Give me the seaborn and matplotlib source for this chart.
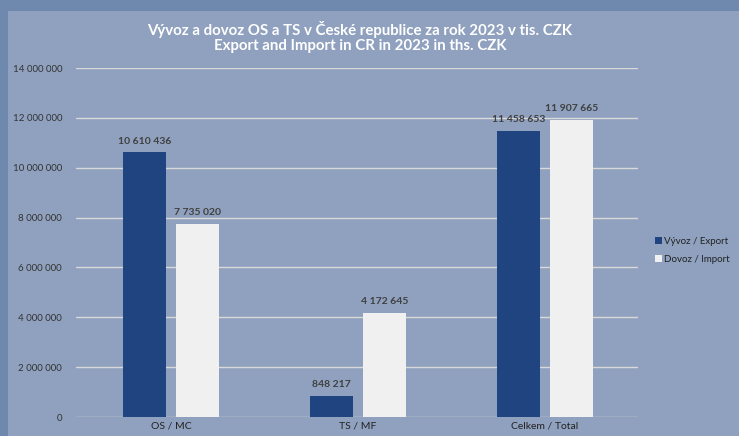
import matplotlib
matplotlib.use("Agg")
import matplotlib.pyplot as plt
import seaborn as sns
import pandas as pd
from matplotlib.patches import Rectangle

categories = ["OS / MC", "TS / MF", "Celkem / Total"]
series = ["Vývoz / Export", "Dovoz / Import"]
export_vals = [10610436, 848217, 11458653]
import_vals = [7735020, 4172645, 11907665]
yticks = [0, 2000000, 4000000, 6000000, 8000000, 10000000, 12000000, 14000000]

colors = ["#1f4480", "#f0f0f0"]


def fmt(v):
    return f"{v:,}".replace(",", " ")


df = pd.DataFrame({
    "cat": categories * 2,
    "series": [series[0]] * 3 + [series[1]] * 3,
    "value": export_vals + import_vals,
})

sns.set_theme(style="white")
plt.rcParams["font.family"] = ["Lato", "DejaVu Sans"]

fig = plt.figure(figsize=(7.39, 4.36), dpi=100)
fig.patch.set_facecolor("#6f89ae")
# inner panel
fig.patches.append(Rectangle((8 / 739, 0), 1, 1 - 11 / 436, transform=fig.transFigure,
                             facecolor="#8fa1be", edgecolor="none", zorder=-5))

ax = fig.add_axes([76 / 739, 1 - 417 / 436, (638 - 76) / 739, (417 - 68) / 436])
ax.set_facecolor("none")
ax.set_zorder(2)

sns.barplot(data=df, x="cat", y="value", hue="series", palette=colors, saturation=1,
            width=0.567, gap=0.205, ax=ax, legend=True, zorder=3,
            linewidth=0, edgecolor="none")

ax.set_ylim(0, 14000000)
ax.set_xlim(-0.508, 2.497)
ax.set_yticks(yticks)
ax.set_yticklabels([fmt(t) for t in yticks], fontsize=7, color="#333333")
ax.tick_params(axis="x", labelsize=7.5, colors="#222222", length=0, pad=3)
ax.tick_params(axis="y", length=0, pad=10)
ax.set_xlabel("")
ax.set_ylabel("")
for t in yticks:
    ax.axhline(t, color="#d9d9d9", lw=1, zorder=1)
for s in ax.spines.values():
    s.set_visible(False)

for cont in ax.containers:
    ax.bar_label(cont, labels=[fmt(int(v)) for v in cont.datavalues], padding=5,
                 fontsize=7.5, fontweight="bold", color="#404040")

leg = ax.legend(loc="center left", bbox_to_anchor=(1.015, 0.477), frameon=False,
                fontsize=7, handlelength=0.7, handleheight=0.7, handletextpad=0.2,
                labelspacing=0.9)
for txt in leg.get_texts():
    txt.set_color("#222222")
for h in leg.legend_handles:
    h.set_edgecolor("none")

fig.text(360 / 739, 1 - 30 / 436,
         "Vývoz a dovoz OS a TS v České republice za rok 2023 v tis. CZK",
         ha="center", va="center", color="white", fontsize=10.8, fontweight="bold")
fig.text(360 / 739, 1 - 46 / 436,
         "Export and Import in CR in 2023 in ths. CZK",
         ha="center", va="center", color="white", fontsize=10.8, fontweight="bold")

fig.savefig("out.png", dpi=100, facecolor=fig.get_facecolor())
